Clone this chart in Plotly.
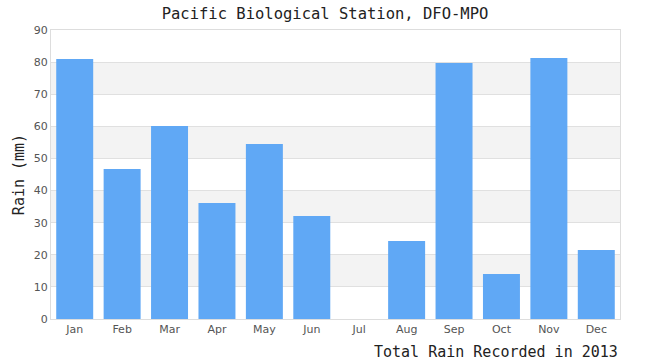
import plotly.graph_objects as go

months = ["Jan", "Feb", "Mar", "Apr", "May", "Jun", "Jul", "Aug", "Sep", "Oct", "Nov", "Dec"]
rain = [81.0, 46.7, 60.1, 36.1, 54.5, 32.1, 0.0, 24.3, 79.7, 14.0, 81.3, 21.5]
band_ranges = [(10, 20), (30, 40), (50, 60), (70, 80)]
y_ticks = [0, 10, 20, 30, 40, 50, 60, 70, 80, 90]

fig = go.Figure()
fig.add_trace(go.Bar(x=months, y=rain, marker=dict(color="#60a8f5", line=dict(width=0)),
                     hoverinfo="x+y"))

shapes = []
for lo, hi in band_ranges:
    shapes.append(dict(type="rect", xref="paper", yref="y", x0=0, x1=1, y0=lo, y1=hi,
                       fillcolor="#f3f3f3", line=dict(width=0), layer="below"))

fig.update_layout(
    width=650, height=360,
    margin=dict(l=51, r=30, t=30, b=41),
    paper_bgcolor="white", plot_bgcolor="white",
    showlegend=False,
    bargap=0.22,
    shapes=shapes,
    title=dict(text="Pacific Biological Station, DFO-MPO", x=0.5, xanchor="center",
               y=1 - 14 / 360, yanchor="middle",
               font=dict(family="DejaVu Sans Mono", size=15.5, color="#222")),
    xaxis=dict(showgrid=False, showline=True, linecolor="#dddddd", linewidth=1, mirror=True,
               ticks="", tickfont=dict(family="DejaVu Sans", size=11, color="#555"),
               fixedrange=True),
    yaxis=dict(range=[0, 90], tickvals=y_ticks, showgrid=True, gridcolor="#e0e0e0", gridwidth=1,
               showline=True, linecolor="#dddddd", linewidth=1, mirror=True, zeroline=False,
               ticks="", tickfont=dict(family="DejaVu Sans", size=11, color="#555"),
               title=dict(text="Rain (mm)", standoff=5,
                          font=dict(family="DejaVu Sans Mono", size=15, color="#222")),
               fixedrange=True),
    annotations=[dict(text="Total Rain Recorded in 2013", xref="paper", yref="paper",
                      x=1, xanchor="right", y=-(341 - 319) / 289, yanchor="top",
                      showarrow=False,
                      font=dict(family="DejaVu Sans Mono", size=15, color="#222"))],
)

fig.write_html("out.html")
